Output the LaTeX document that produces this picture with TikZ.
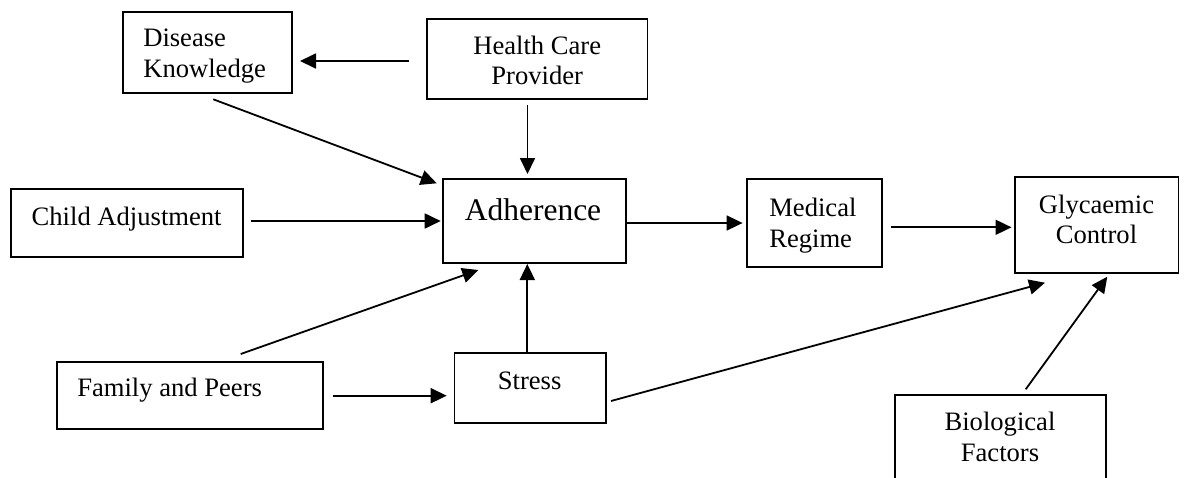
\documentclass[tikz,border=0pt]{standalone}
\usepackage{fontspec}
\setmainfont{Liberation Serif}
\usetikzlibrary{arrows.meta,calc}
\begin{document}
\begin{tikzpicture}[x=1pt,y=-1pt,
  box/.style={draw, line width=1.7pt, inner sep=0pt, outer sep=0pt},
  arr/.style={line width=1.8pt, -{Triangle[length=16pt,width=15pt]}},
  txt/.style={inner sep=0pt, outer sep=0pt, font=\fontsize{26.6}{30.6}\selectfont},
  bigtxt/.style={inner sep=0pt, outer sep=0pt, font=\fontsize{31.5}{36}\selectfont}]
\clip (0,0) rectangle (1184,477);
\fill[white] (0,0) rectangle (1184,477);

% boxes
\node[box, minimum width=169pt, minimum height=81.6pt] (dk) at (207.2,52.5) {};
\node[box, minimum width=220.8pt, minimum height=80.3pt] (hcp) at (537.1,59.15) {};
\node[box, minimum width=232.6pt, minimum height=68pt] (ca) at (127,223.3) {};
\node[box, minimum width=182.4pt, minimum height=84pt] (adh) at (534.5,221.3) {};
\node[box, minimum width=134.4pt, minimum height=88pt] (mr) at (814.5,223.3) {};
\node[box, minimum width=163.1pt, minimum height=96pt] (gc) at (1096.85,225.3) {};
\node[box, minimum width=266.6pt, minimum height=67.6pt] (fp) at (190,395.5) {};
\node[box, minimum width=151.2pt, minimum height=70pt] (st) at (530.1,388.3) {};
\node[box, minimum width=211pt, minimum height=105pt] (bio) at (1000.5,447.5) {};

% texts
\node[txt, anchor=base west] (dkt) at (143.3,46.7) {\begin{tabular}[t]{@{}l@{}}Disease\\Knowledge\end{tabular}};
\node[txt, anchor=base] (hcpt) at (537.2,54.3) {\begin{tabular}[t]{@{}c@{}}Health Care\\Provider\end{tabular}};
\node[txt, anchor=base west] (cat) at (31.7,225.7) {Child Adjustment};
\node[bigtxt, anchor=base] (adht) at (533,220) {Adherence};
\node[txt, anchor=base west] (mrt) at (769.3,216.5) {\begin{tabular}[t]{@{}l@{}}Medical\\Regime\end{tabular}};
\node[txt, anchor=base] (gct) at (1096.5,213.3) {\begin{tabular}[t]{@{}c@{}}Glycaemic\\Control\end{tabular}};
\node[txt, anchor=base west] (fpt) at (77.3,396.7) {Family and Peers};
\node[txt, anchor=base] (stt) at (529.6,389.3) {Stress};
\node[txt, anchor=base] (biot) at (1000,430.7) {\begin{tabular}[t]{@{}c@{}}Biological\\Factors\end{tabular}};

% connectors
\draw[arr] ($(hcp.west)+(-17.4,1.85)$) -- ($(dk.east)+(8.3,8.5)$);
\draw[arr] ($(dk.south)+(6.1,6)$) -- ($(adh.north west)+(-6.6,4)$);
\draw[arr] ($(hcp.south)+(-9.6,5.7)$) -- ($(adh.north)+(-7,-5.3)$);
\draw[arr] ($(ca.east)+(7.4,-2.3)$) -- ($(adh.west)+(-2.6,-0.3)$);
\draw[arr] ($(adh.east)+(0,1.7)$) -- ($(mr.west)+(-4.7,-0.3)$);
\draw[arr] ($(mr.east)+(8.8,4)$) -- ($(gc.west)+(-3.8,2)$);
\draw[arr] ($(fp.north)+(50.7,-7.7)$) -- ($(adh.south west)+(35,6.7)$);
\draw[arr] ($(fp.east)+(9.4,0.2)$) -- ($(st.west)+(-7.8,7.4)$);
\draw[arr] ($(st.north)+(-2.8,0)$) -- ($(adh.south)+(-7.2,0.7)$);
\draw[arr] ($(st.east)+(5.3,12.7)$) -- ($(gc.south west)+(29.7,9.4)$);
\draw[arr] ($(bio.north)+(25.2,-5.7)$) -- ($(gc.south)+(10.45,3.4)$);
\end{tikzpicture}
\end{document}
